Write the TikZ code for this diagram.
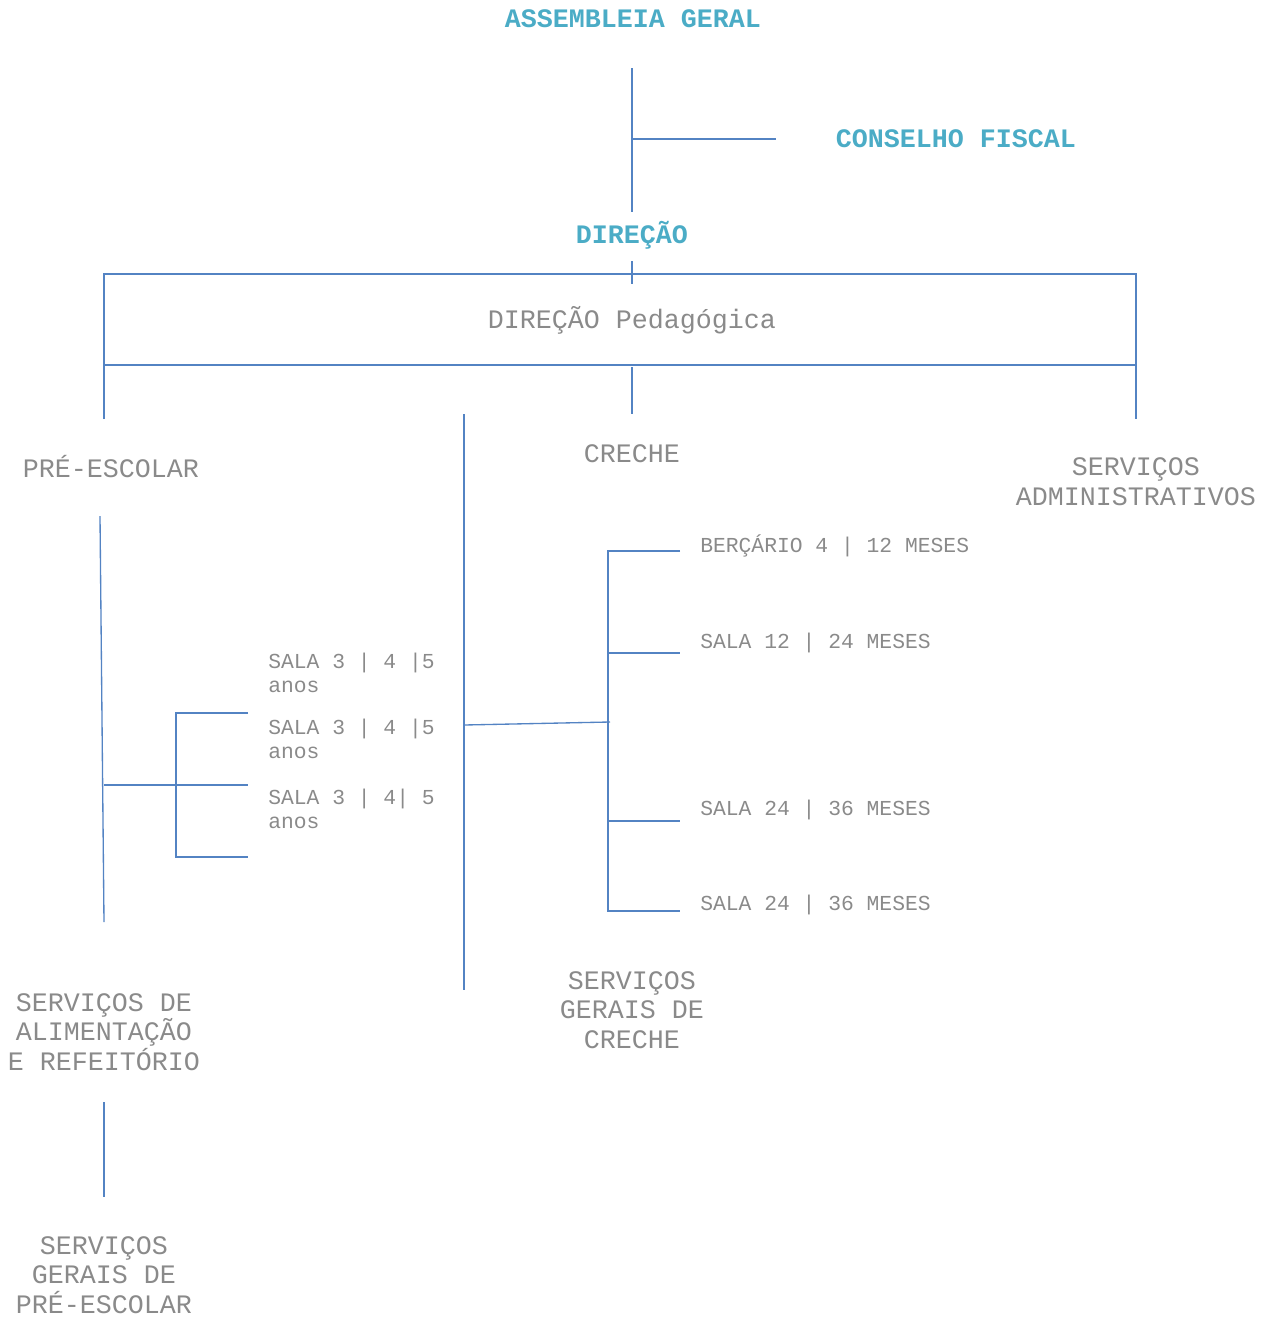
\documentclass[tikz,border=0pt]{standalone}
\usepackage{fontspec}
\setmainfont{Liberation Mono}
\definecolor{tituloazul}{HTML}{4BACC6}
\definecolor{textocinza}{HTML}{8A8A8A}
\definecolor{linhaazul}{HTML}{5383C3}

\begin{document}
\begin{tikzpicture}[x=0.75pt,y=-0.75pt,
  titulo/.style={font=\fontsize{20}{22}\selectfont\bfseries, text=tituloazul, inner sep=0pt, anchor=base},
  setor/.style={font=\fontsize{20}{22}\selectfont, text=textocinza, inner sep=0pt, anchor=base, align=center},
  sala/.style={font=\fontsize{16}{18}\selectfont, text=textocinza, inner sep=0pt, anchor=base west, align=left},
  conn/.style={draw=linhaazul, line width=1pt}]

  \useasboundingbox (0,0) rectangle (1266,1318);

  % top of the chart
  \node[titulo] (assembleia) at (633,27) {ASSEMBLEIA GERAL};
  \node[titulo] (conselho) at (956,147) {CONSELHO FISCAL};
  \node[titulo] (direcao) at (632,243) {DIREÇÃO};

  \coordinate (ag-a) at (632,68);
  \coordinate (ag-b) at (632,212);
  \coordinate (cf-a) at (632,139);
  \coordinate (cf-b) at (776,139);
  \draw[conn] (ag-a) -- (ag-b);
  \draw[conn] (cf-a) -- (cf-b);

  % direcao pedagogica box
  \node[setor] (pedagogica) at (632,328) {DIREÇÃO Pedagógica};
  \coordinate (dp-tl) at (104,274);
  \coordinate (dp-tr) at (1136,274);
  \coordinate (dp-bl) at (104,365);
  \coordinate (dp-br) at (1136,365);
  \draw[conn] (632,261) -- (632,284);
  \draw[conn] (104,419) -- (dp-tl) -- (dp-tr) -- (1136,419);
  \draw[conn] (dp-bl) -- (dp-br);
  \draw[conn] (632,367) -- (632,414);

  % sectors (base = last line)
  \node[setor] (preescolar) at (111,477) {PRÉ-ESCOLAR};
  \node[setor] (creche) at (632,462) {CRECHE};
  \node[setor] (admin) at (1136,505) {SERVIÇOS\\ADMINISTRATIVOS};

  \draw[conn] (464,414) -- (464,990);

  % pre-escolar branch
  \draw[conn] (100,516) -- (104,922);
  \draw[conn] (104,785) -- (248,785);
  \draw[conn] (248,713) -- (176,713) -- (176,857) -- (248,857);

  \foreach \nome/\yb/\txt in {salaA/692/{SALA 3 | 4 |5}, salaB/758/{SALA 3 | 4 |5}, salaC/828/{SALA 3 | 4| 5}}
    \node[sala] (\nome) at (268,\yb) {\txt\\anos};

  % creche branch
  \draw[conn] (464,725) -- (610,722);
  \draw[conn] (680,551) -- (608,551) -- (608,911) -- (680,911);
  \foreach \y in {653,821}
    \draw[conn] (608,\y) -- (680,\y);

  \node[sala] (bercario) at (700,552) {BERÇÁRIO 4 | 12 MESES};
  \node[sala] (sala12) at (700,648) {SALA 12 | 24 MESES};
  \node[sala] (sala24a) at (700,815) {SALA 24 | 36 MESES};
  \node[sala] (sala24b) at (700,910) {SALA 24 | 36 MESES};

  % services
  \node[setor] (gcreche) at (632,1048) {SERVIÇOS\\GERAIS DE\\CRECHE};
  \node[setor] (alimentacao) at (104,1070) {SERVIÇOS DE\\ALIMENTAÇÃO\\E REFEITÓRIO};
  \draw[conn] (104,1102) -- (104,1197);
  \node[setor] (gpre) at (104,1313) {SERVIÇOS\\GERAIS DE\\PRÉ-ESCOLAR};

\end{tikzpicture}
\end{document}
